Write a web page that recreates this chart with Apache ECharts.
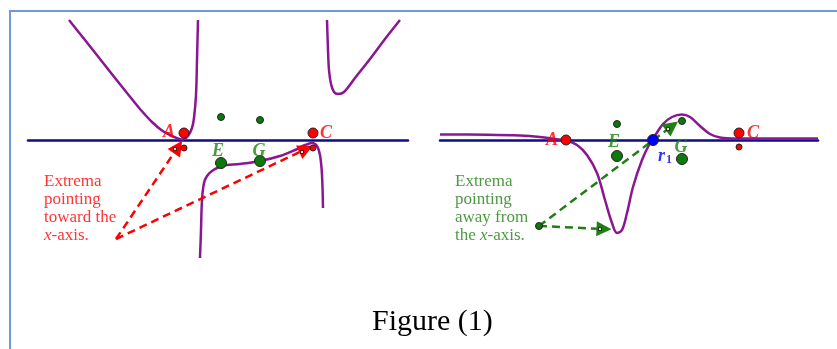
<!DOCTYPE html>
<html>
<head>
<meta charset="utf-8">
<script src="https://cdn.jsdelivr.net/npm/echarts@6.0.0/dist/echarts.min.js"></script>
<style>
  html, body { margin: 0; padding: 0; background: #fff; overflow: hidden; }
  #frame {
    position: absolute; left: 9px; top: 10px; width: 900px; height: 400px;
    border-top: 2px solid #7199d4; border-left: 2px solid #7199d4;
  }
  #main { position: absolute; left: 0; top: 0; width: 837px; height: 349px; }
</style>
</head>
<body>
<div id="frame"></div>
<div id="main"></div>
<script>
// left panel: curve with two vertical asymptotes (three branches)
var leftBranch1 = [[4.1, 12], [5.7, 10], [7.2, 8.1], [8.7, 6.2], [9.9, 4.7], [11.2, 3.1],
  [12.4, 1.8], [13.4, 0.95], [14.4, 0.4], [15.4, 0.05], [16.0, 0.4], [16.4, 1.2],
  [16.6, 2.2], [16.8, 4.5], [16.9, 8], [17.0, 12]];
var leftBranch2 = [[17.2, -11.8], [17.3, -9.0], [17.4, -6.0], [17.6, -4.3], [17.9, -3.6],
  [18.4, -3.1], [19.4, -2.6], [21.2, -2.4], [23.2, -2.1], [25.2, -1.6], [26.7, -1.0],
  [27.7, -0.5], [28.4, -0.3], [28.9, -0.6], [29.2, -1.5], [29.4, -3.5], [29.5, -6.8]];
var leftBranch3 = [[29.9, 12], [30.0, 9], [30.1, 7], [30.3, 5.6], [30.6, 4.8], [31.0, 4.6],
  [31.6, 4.8], [32.7, 6.2], [34.2, 8.1], [35.7, 10.1], [37.2, 12]];

var leftRedBig = [[15.6, 0.7], [28.5, 0.7]];
var leftRedSmall = [[15.6, -0.8], [28.5, -0.8]];
var leftGreenBig = [[19.3, -2.3], [23.2, -2.1]];
var leftGreenSmall = [[19.3, 2.3], [23.2, 2.0]];
var leftRedLabels = [[14.1, 0.8, 'A'], [29.8, 0.7, 'C']];
var leftGreenLabels = [[19.0, -1.1, 'E'], [23.1, -1.1, 'G']];
var leftArrows = [[[8.8, -9.9], [15.0, -0.7]], [[8.8, -9.9], [27.8, -0.9]]];
var leftArrowTips = [[14.7, -0.9], [27.4, -1.2]];
var leftNote = [[1.6, -6.9]];

// right panel: curve with one root r1
var rightCurve = [[0, 0.55], [4.7, 0.53], [8.0, 0.45], [10.0, 0.3], [11.5, 0.1], [12.6, -0.05],
  [13.7, -0.5], [14.7, -1.5], [15.7, -3.3], [16.5, -6.0], [17.2, -8.3], [17.7, -9.3],
  [18.2, -9.0], [18.7, -7.3], [19.3, -4.7], [20.2, -2.0], [21.0, -0.3], [21.6, 0.6],
  [22.3, 1.6], [23.2, 2.3], [24.2, 2.55], [25.0, 2.3], [26.0, 1.4], [27.0, 0.6],
  [28.0, 0.25], [29.7, 0.15], [37.8, 0.15]];

var rightRedBig = [[12.6, 0], [29.9, 0.7]];
var rightRedSmall = [[29.9, -0.7]];
var rightGreenBig = [[17.7, -1.6], [24.2, -1.9]];
var rightGreenSmall = [[17.7, 1.6], [24.2, 1.9]];
var rightBlue = [[21.3, 0]];
var rightRedLabels = [[11.2, 0, 'A'], [31.3, 0.7, 'C']];
var rightGreenLabels = [[17.4, -0.2, 'E'], [24.1, -0.7, 'G']];
var rightBlueLabels = [[22.5, -1.6, 'r']];
var rightArrows = [[[9.9, -8.6], [23.2, 1.4]], [[9.9, -8.6], [16.4, -8.9]]];
var rightArrowTips = [[22.8, 1.1], [16.0, -8.9]];
var rightArrowOrigin = [[9.9, -8.6]];
var rightNote = [[1.5, -6.9]];

var RED = '#ff0000', GREEN = '#1f7f12', DOTGREEN = '#0b7a0b', BLUE = '#0000ff',
    PURPLE = '#8a1791', NAVY = '#0d0d85';
var SERIF = '"Liberation Serif", "DejaVu Serif", serif';

function curve(data, i) {
  return {
    type: 'line', xAxisIndex: i, yAxisIndex: i, data: data,
    smooth: 0.35, symbol: 'none', clip: true,
    lineStyle: { color: PURPLE, width: 2.5 }, z: 3
  };
}
function dots(data, i, color, size) {
  return {
    type: 'scatter', xAxisIndex: i, yAxisIndex: i, data: data, symbolSize: size,
    itemStyle: { color: color, borderColor: '#222', borderWidth: 1, opacity: 1 }, z: 5
  };
}
function labels(data, i, color) {
  var st = { color: color, fontFamily: SERIF, fontSize: 18, fontWeight: 'bold', fontStyle: 'italic' };
  return {
    type: 'scatter', xAxisIndex: i, yAxisIndex: i, data: data, symbolSize: 0,
    label: {
      show: true, position: 'inside', color: color,
      formatter: function (p) { return p.value[2] === 'r' ? '{b|r}{s|1}' : '{b|' + p.value[2] + '}'; },
      rich: {
        b: st,
        s: { color: color, fontFamily: SERIF, fontSize: 12, fontWeight: 'bold', padding: [8, 0, 0, 1] }
      }
    }, z: 6
  };
}
function arrows(data, i, color) {
  return {
    type: 'lines', coordinateSystem: 'cartesian2d', xAxisIndex: i, yAxisIndex: i,
    data: data.map(function (c) { return { coords: c }; }),
    symbol: ['none', 'triangle'], symbolSize: 15,
    lineStyle: { color: color, width: 2.5, type: [8, 5], opacity: 1 }, z: 4
  };
}
function tips(data, i) {
  return {
    type: 'scatter', xAxisIndex: i, yAxisIndex: i, data: data, symbol: 'rect', symbolSize: 3,
    itemStyle: { color: '#fff', borderColor: '#111', borderWidth: 1 }, z: 7
  };
}
function note(data, i, color, text) {
  var st = { color: color, fontFamily: SERIF, fontSize: 17, lineHeight: 18 };
  return {
    type: 'scatter', xAxisIndex: i, yAxisIndex: i, data: data, symbolSize: 0,
    label: {
      show: true, position: 'right', distance: 0, color: color,
      fontFamily: SERIF, fontSize: 17, lineHeight: 18,
      formatter: text,
      rich: { n: st, i: Object.assign({}, st, { fontStyle: 'italic' }) }
    }
  };
}

var axisX = function (i, max) {
  return {
    gridIndex: i, type: 'value', min: 0, max: max,
    axisLine: { show: true, onZero: true, lineStyle: { color: NAVY, width: 2.5 } },
    axisTick: { show: false }, axisLabel: { show: false }, splitLine: { show: false }
  };
};
var axisY = function (i) {
  return { gridIndex: i, type: 'value', min: -12, max: 12, show: false, splitLine: { show: false } };
};

var chart = echarts.init(document.getElementById('main'), null, { renderer: 'canvas' });
chart.setOption({
  animation: false,
  backgroundColor: 'transparent',
  title: {
    text: 'Figure (1)', left: 367, top: 302,
    textStyle: { fontFamily: SERIF, fontSize: 30, fontWeight: 'normal', color: '#000' }
  },
  grid: [
    { left: 28, top: 20, width: 380, height: 240 },
    { left: 440, top: 20, width: 378, height: 240 }
  ],
  xAxis: [axisX(0, 38), axisX(1, 37.8)],
  yAxis: [axisY(0), axisY(1)],
  series: [
    curve(leftBranch1, 0), curve(leftBranch2, 0), curve(leftBranch3, 0),
    arrows(leftArrows, 0, RED), tips(leftArrowTips, 0),
    dots(leftRedBig, 0, RED, 10), dots(leftRedSmall, 0, RED, 6),
    dots(leftGreenBig, 0, DOTGREEN, 11), dots(leftGreenSmall, 0, DOTGREEN, 7),
    labels(leftRedLabels, 0, RED), labels(leftGreenLabels, 0, GREEN),
    note(leftNote, 0, RED, '{n|Extrema}\n{n|pointing}\n{n|toward the}\n{i|x}{n|-axis.}'),

    curve(rightCurve, 1),
    arrows(rightArrows, 1, GREEN), tips(rightArrowTips, 1),
    dots(rightArrowOrigin, 1, DOTGREEN, 7),
    dots(rightRedBig, 1, RED, 10), dots(rightRedSmall, 1, RED, 6),
    dots(rightGreenBig, 1, DOTGREEN, 11), dots(rightGreenSmall, 1, DOTGREEN, 7),
    dots(rightBlue, 1, BLUE, 11),
    labels(rightRedLabels, 1, RED), labels(rightGreenLabels, 1, GREEN),
    labels(rightBlueLabels, 1, BLUE),
    note(rightNote, 1, GREEN, '{n|Extrema}\n{n|pointing}\n{n|away from}\n{n|the }{i|x}{n|-axis.}')
  ]
});
</script>
</body>
</html>
